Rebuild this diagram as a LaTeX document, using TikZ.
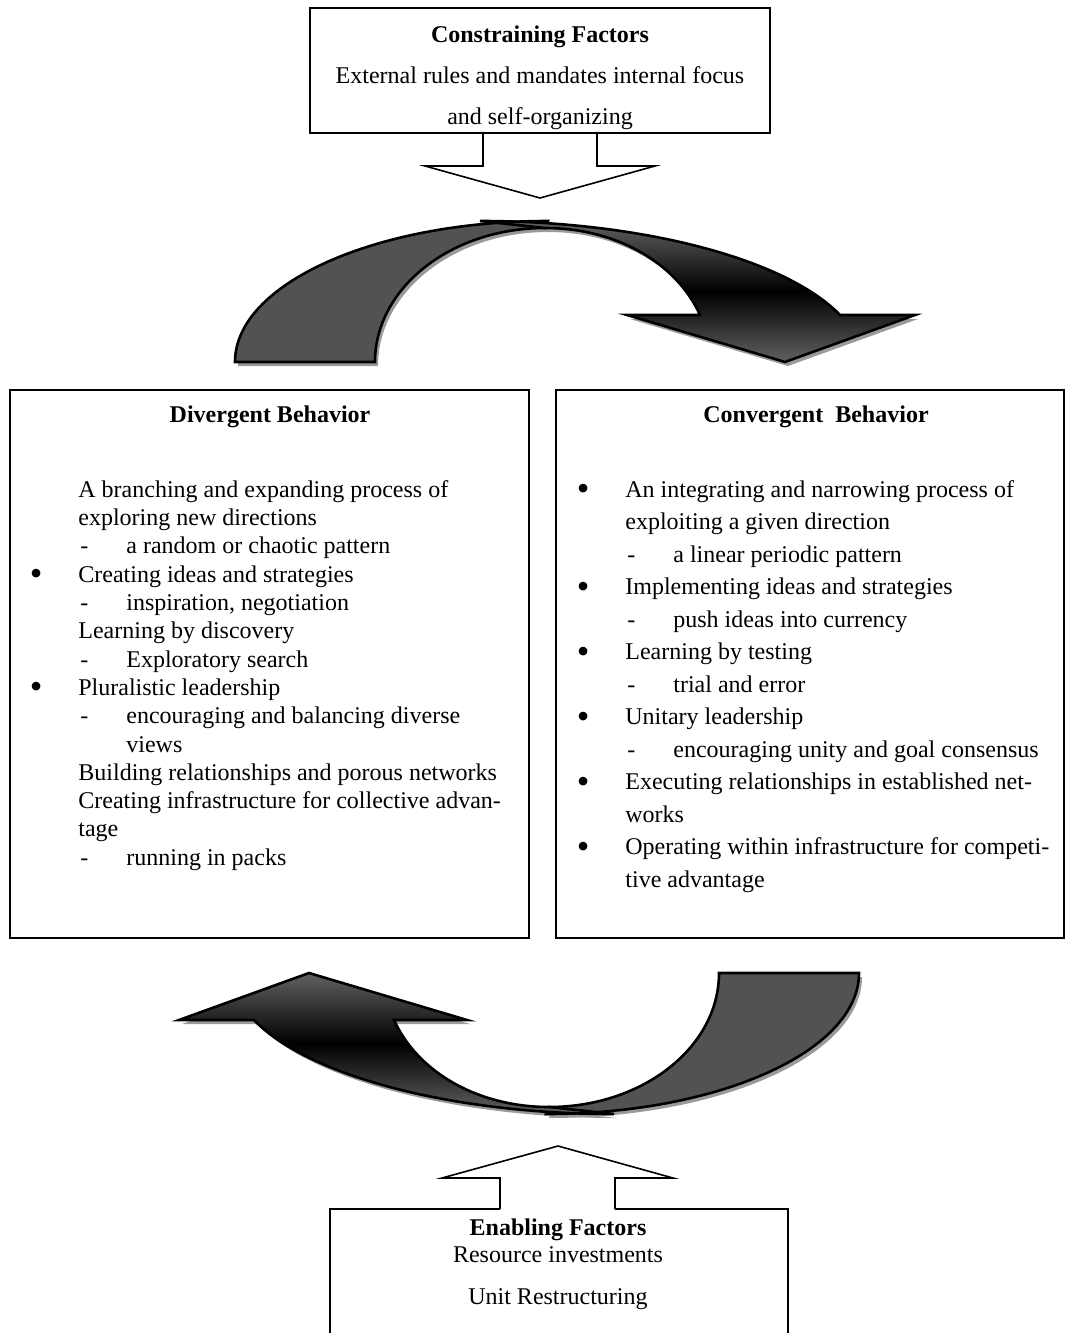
\documentclass[tikz,border=0pt]{standalone}
\usepackage{fontspec}
\setmainfont{Liberation Serif}
\usepackage{tikz}
\usetikzlibrary{positioning}
\definecolor{ink}{HTML}{000000}
\definecolor{band}{HTML}{525252}
\definecolor{bandlight}{HTML}{616161}
\definecolor{shadowgray}{HTML}{9A9A9A}

\newcommand{\bul}{\llap{\raisebox{-1.6pt}{\fontsize{18}{14}\selectfont\textbullet}\hskip 18pt}}
\newcommand{\dsh}{\makebox[24pt][l]{\hskip1pt-}}
\newcommand{\subgap}{\hskip 24pt}
% the two parts of the turning arrow (px units, y downwards)
\newcommand{\backband}{(235,362) .. controls (235,284) and (375,221) .. (548,221) -- (545,228) .. controls (451,228) and (375,288) .. (375,362) -- cycle}
\newcommand{\frontband}{(480,221) .. controls (642,221) and (786,259) .. (840,315) -- (915,315) -- (785,362) -- (627,315) -- (700,315) .. controls (676,262) and (615,228) .. (545,228) -- cycle}

\begin{document}
\begin{tikzpicture}[x=0.5pt, y=-0.5pt, every node/.style={font=\fontsize{12}{14.15}\selectfont}, box/.style={draw=ink,line width=1pt,inner sep=0pt}, txt/.style={inner sep=0pt,align=left,anchor=north west}, head/.style={font=\fontsize{12}{14.15}\selectfont\bfseries}, blockline/.style={draw=ink,line width=0.8pt,fill=white}, backpart/.style={draw=ink,line width=1.3pt,fill=band}, frontpart/.style={draw=ink,line width=1.3pt,top color=bandlight,bottom color=bandlight,middle color=black}, shadowpart/.style={fill=shadowgray}]
\useasboundingbox (0,0) rectangle (1065,1333);
\clip (0,0) rectangle (1065,1333);

% constraining factors
\node[box,minimum width=230pt,minimum height=62.5pt] (cons) at (540,70.5) {};
\node[inner sep=0pt,anchor=north,align=center,font=\fontsize{12}{20.5}\selectfont] (constxt) at (540,25) {\textbf{Constraining Factors}\\External rules and mandates internal focus\\and self-organizing};
\draw[blockline] (cons.south) ++(-57,0) -- ++(0,32) -- ++(-58,0) -- ++(115,32) -- ++(115,-32) -- ++(-58,0) -- ++(0,-32);

% upper turning arrow
\begin{scope}[shift={(3,4)}]
\fill[shadowpart] \backband; \fill[shadowpart] \frontband;
\end{scope}
\filldraw[backpart] \backband;
\filldraw[frontpart] \frontband;

% behaviour boxes
\node[box,minimum width=259.5pt,minimum height=274pt] (div) at (269.5,664) {};
\node[box,minimum width=254pt,minimum height=274pt] (conv) at (810,664) {};
\node[head] (divhead) at (270,417) {Divergent Behavior};
\node[head] (convhead) at (816,417) {Convergent\ \ Behavior};
\node[txt,font=\fontsize{12}{14.15}\selectfont] (divlist) at (78,480) {A branching and expanding process of\\
exploring new directions\\
\dsh a random or chaotic pattern\\
\bul Creating ideas and strategies\\
\dsh inspiration, negotiation\\
Learning by discovery\\
\dsh Exploratory search\\
\bul Pluralistic leadership\\
\dsh encouraging and balancing diverse\\
\subgap views\\
Building relationships and porous networks\\
Creating infrastructure for collective advan-\\
tage\\
\dsh running in packs};
\node[txt,font=\fontsize{12}{16.25}\selectfont] (convlist) at (625,480) {\bul An integrating and narrowing process of\\
exploiting a given direction\\
\dsh a linear periodic pattern\\
\bul Implementing ideas and strategies\\
\dsh push ideas into currency\\
\bul Learning by testing\\
\dsh trial and error\\
\bul Unitary leadership\\
\dsh encouraging unity and goal consensus\\
\bul Executing relationships in established net-\\
works\\
\bul Operating within infrastructure for competi-\\
tive advantage};

% lower turning arrow
\begin{scope}[shift={(3,4)}]
\begin{scope}[rotate around={180:(547,667.5)}]
\fill[shadowpart] \backband; \fill[shadowpart] \frontband;
\end{scope}
\end{scope}
\begin{scope}[rotate around={180:(547,667.5)}]
\filldraw[backpart] \backband;
\filldraw[frontpart] \frontband;
\end{scope}

% enabling factors
\node[inner sep=0pt,anchor=north,align=center,font=\fontsize{12}{13.5}\selectfont] (enab) at (558,1218) {\textbf{Enabling Factors}\\Resource investments\\[7.5pt]Unit Restructuring};
\coordinate (enabtop) at (558,1209);
\draw[ink,line width=1pt] (enabtop) ++(-58,0) -| (330,1400);
\draw[ink,line width=1pt] (enabtop) ++(57,0) -| (788,1400);
\draw[blockline] (enabtop) ++(-58,0) -- ++(0,-31) -- ++(-58,0) -- ++(116,-32) -- ++(115,32) -- ++(-58,0) -- ++(0,31);
\end{tikzpicture}
\end{document}
